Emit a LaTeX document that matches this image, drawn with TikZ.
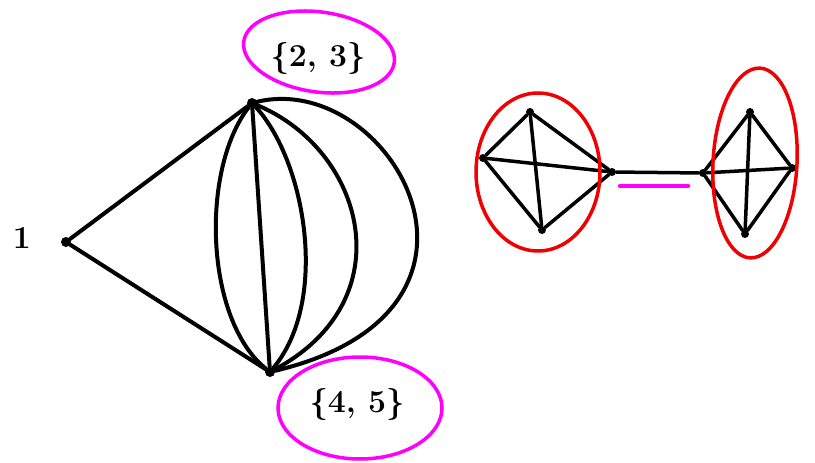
\documentclass[tikz,border=0pt]{standalone}
\usepackage{fontspec}
\usepackage{tikz}
\usetikzlibrary{positioning}
\definecolor{pen}{RGB}{255,0,255}
\definecolor{redpen}{RGB}{240,0,0}
\tikzset{
  dot/.style={circle,fill=black,inner sep=0pt,minimum size=10pt},
  edge/.style={line width=4pt,line cap=round},
  ring/.style={line width=3.5pt},
  lbl/.style={font=\fontsize{32}{34}\selectfont\bfseries}
}
\begin{document}
\begin{tikzpicture}[x=1pt,y=-1pt]
 \useasboundingbox (0,0) rectangle (815,463);
 %NODES
 \node[dot] (v1) at (66,242) {};
 \node[dot] (v2) at (252,103) {};
 \node[dot] (v3) at (270,372) {};
 \node[lbl] (l1) at (22,238) {1};
 \node[lbl] (l23) at (318,58) {\{2, 3\}};
 \node[lbl] (l45) at (357,404) {\{4, 5\}};
 \node[dot,minimum size=8pt] (a1) at (483,158) {};
 \node[dot,minimum size=8pt] (a2) at (530,112) {};
 \node[dot,minimum size=8pt] (a3) at (612,172) {};
 \node[dot,minimum size=8pt] (a4) at (542,230) {};
 \node[dot,minimum size=8pt] (c1) at (703,173) {};
 \node[dot,minimum size=8pt] (c2) at (750,112) {};
 \node[dot,minimum size=8pt] (c3) at (792,168) {};
 \node[dot,minimum size=8pt] (c4) at (745,234) {};
 %EDGES
 \draw[edge] (v1) -- (v2);
 \draw[edge] (v1) -- (v3);
 \draw[edge] (v2) -- (v3);
 \draw[edge] (v2) .. controls (200,170) and (205,320) .. (v3);
 \draw[edge] (v2) .. controls (305,160) and (330,300) .. (v3);
 \draw[edge] (v2) .. controls (365,150) and (405,300) .. (v3);
 \draw[edge] (v2) .. controls (390,70) and (530,310) .. (v3);
 \foreach \s/\t in {a1/a2,a1/a3,a1/a4,a2/a3,a2/a4,a3/a4,c1/c2,c1/c3,c1/c4,c2/c3,c2/c4,c3/c4}
   \draw[edge,line width=3.5pt] (\s) -- (\t);
 \draw[edge,line width=3.5pt] (a3) -- (c1);
 %RINGS
 \draw[ring,pen,rotate around={-8:(319,52)}] (319,52) ellipse (76 and 40);
 \draw[ring,pen] (360,408) ellipse (82 and 51);
 \draw[ring,redpen] (538,172) ellipse (62 and 79);
 \draw[ring,redpen,rotate around={-3:(755,163)}] (755,163) ellipse (42 and 95);
 \coordinate (u1) at (620,186);
 \coordinate (u2) at (688,186);
 \draw[pen,line width=4.5pt,line cap=round] (u1) -- (u2);
\end{tikzpicture}
\end{document}
